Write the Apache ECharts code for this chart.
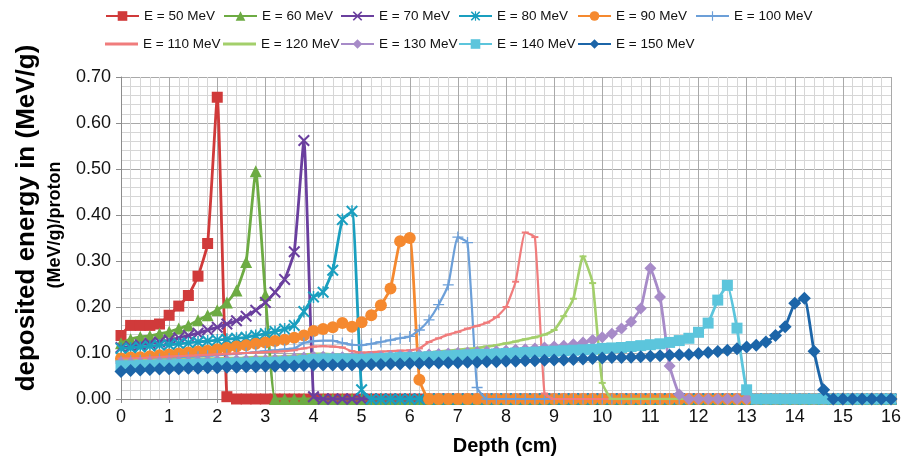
<!DOCTYPE html>
<html>
<head>
<meta charset="utf-8">
<script src="https://cdn.jsdelivr.net/npm/echarts@6/dist/echarts.min.js"></script>
<style>
  html, body { margin: 0; padding: 0; background: #fff; }
  #chart { width: 906px; height: 458px; }
</style>
</head>
<body>
<div id="chart"></div>
<script>
// Depth in water (cm), one sample every 0.2 cm
const depth = [
  0.0, 0.2, 0.4, 0.6, 0.8,
  1.0, 1.2, 1.4, 1.6, 1.8,
  2.0, 2.2, 2.4, 2.6, 2.8,
  3.0, 3.2, 3.4, 3.6, 3.8,
  4.0, 4.2, 4.4, 4.6, 4.8,
  5.0, 5.2, 5.4, 5.6, 5.8,
  6.0, 6.2, 6.4, 6.6, 6.8,
  7.0, 7.2, 7.4, 7.6, 7.8,
  8.0, 8.2, 8.4, 8.6, 8.8,
  9.0, 9.2, 9.4, 9.6, 9.8,
  10.0, 10.2, 10.4, 10.6, 10.8,
  11.0, 11.2, 11.4, 11.6, 11.8,
  12.0, 12.2, 12.4, 12.6, 12.8,
  13.0, 13.2, 13.4, 13.6, 13.8,
  14.0, 14.2, 14.4, 14.6, 14.8,
  15.0, 15.2, 15.4, 15.6, 15.8,
  16.0
];

const seriesNames = [
  'E = 50 MeV', 'E = 60 MeV', 'E = 70 MeV', 'E = 80 MeV', 'E = 90 MeV', 'E = 100 MeV',
  'E = 110 MeV', 'E = 120 MeV', 'E = 130 MeV', 'E = 140 MeV', 'E = 150 MeV'
];

// Deposited energy, (MeV/g)/proton
const e50 = [
  0.138, 0.160, 0.160, 0.160, 0.163,
  0.182, 0.202, 0.225, 0.267, 0.338,
  0.656, 0.005, 0, 0, 0,
  0, 0, 0, 0, 0,
  0, 0, 0, 0, 0,
  0, 0, 0, 0, 0,
  0, 0, 0, 0, 0,
  0, 0, 0, 0, 0,
  0, 0, 0, 0, 0,
  0, 0, 0, 0, 0,
  0, 0, 0, 0, 0,
  0, 0, 0, 0, 0,
  0, 0, 0, 0, 0,
  0, 0, 0, 0, 0,
  0, 0, 0, 0, 0,
  0, 0, 0, 0, 0,
  0
];
const e60 = [
  0.121, 0.130, 0.135, 0.137, 0.142,
  0.146, 0.153, 0.160, 0.171, 0.182,
  0.193, 0.210, 0.236, 0.298, 0.495,
  0.226, 0, 0, 0, 0,
  0, 0, 0, 0, 0,
  0, 0, 0, 0, 0,
  0, 0, 0, 0, 0,
  0, 0, 0, 0, 0,
  0, 0, 0, 0, 0,
  0, 0, 0, 0, 0,
  0, 0, 0, 0, 0,
  0, 0, 0, 0, 0,
  0, 0, 0, 0, 0,
  0, 0, 0, 0, 0,
  0, 0, 0, 0, 0,
  0, 0, 0, 0, 0,
  0
];
const e70 = [
  0.112, 0.114, 0.118, 0.121, 0.124,
  0.128, 0.133, 0.138, 0.143, 0.150,
  0.156, 0.163, 0.170, 0.180, 0.193,
  0.210, 0.232, 0.260, 0.320, 0.562,
  0.005, 0, 0, 0, 0,
  0, 0, 0, 0, 0,
  0, 0, 0, 0, 0,
  0, 0, 0, 0, 0,
  0, 0, 0, 0, 0,
  0, 0, 0, 0, 0,
  0, 0, 0, 0, 0,
  0, 0, 0, 0, 0,
  0, 0, 0, 0, 0,
  0, 0, 0, 0, 0,
  0, 0, 0, 0, 0,
  0, 0, 0, 0, 0,
  0
];
const e80 = [
  0.110, 0.111, 0.113, 0.115, 0.117,
  0.118, 0.120, 0.122, 0.124, 0.126,
  0.128, 0.130, 0.132, 0.134, 0.138,
  0.142, 0.147, 0.152, 0.160, 0.190,
  0.222, 0.232, 0.280, 0.390, 0.408,
  0.020, 0, 0, 0, 0,
  0, 0, 0, 0, 0,
  0, 0, 0, 0, 0,
  0, 0, 0, 0, 0,
  0, 0, 0, 0, 0,
  0, 0, 0, 0, 0,
  0, 0, 0, 0, 0,
  0, 0, 0, 0, 0,
  0, 0, 0, 0, 0,
  0, 0, 0, 0, 0,
  0, 0, 0, 0, 0,
  0
];
const e90 = [
  0.088, 0.090, 0.091, 0.093, 0.095,
  0.097, 0.099, 0.101, 0.103, 0.105,
  0.108, 0.111, 0.114, 0.117, 0.120,
  0.123, 0.126, 0.129, 0.133, 0.138,
  0.148, 0.152, 0.156, 0.165, 0.157,
  0.167, 0.182, 0.204, 0.240, 0.343,
  0.350, 0.042, 0, 0, 0,
  0, 0, 0, 0, 0,
  0, 0, 0, 0, 0,
  0, 0, 0, 0, 0,
  0, 0, 0, 0, 0,
  0, 0, 0, 0, 0,
  0, 0, 0, 0, 0,
  0, 0, 0, 0, 0,
  0, 0, 0, 0, 0,
  0, 0, 0, 0, 0,
  0
];
const e100 = [
  0.082, 0.083, 0.084, 0.085, 0.087,
  0.088, 0.089, 0.091, 0.092, 0.094,
  0.095, 0.097, 0.098, 0.100, 0.102,
  0.104, 0.106, 0.108, 0.110, 0.122,
  0.126, 0.127, 0.127, 0.122, 0.118,
  0.117, 0.120, 0.124, 0.128, 0.132,
  0.136, 0.150, 0.172, 0.205, 0.248,
  0.352, 0.340, 0.025, 0, 0,
  0, 0, 0, 0, 0,
  0, 0, 0, 0, 0,
  0, 0, 0, 0, 0,
  0, 0, 0, 0, 0,
  0, 0, 0, 0, 0,
  0, 0, 0, 0, 0,
  0, 0, 0, 0, 0,
  0, 0, 0, 0, 0,
  0
];
const e110 = [
  0.088, 0.088, 0.089, 0.090, 0.091,
  0.092, 0.093, 0.094, 0.095, 0.096,
  0.097, 0.098, 0.099, 0.100, 0.101,
  0.102, 0.103, 0.104, 0.106, 0.110,
  0.114, 0.115, 0.114, 0.112, 0.104,
  0.101, 0.102, 0.103, 0.104, 0.105,
  0.106, 0.110, 0.124, 0.132, 0.140,
  0.146, 0.153, 0.159, 0.166, 0.178,
  0.200, 0.255, 0.362, 0.352, 0.012,
  0, 0, 0, 0, 0,
  0, 0, 0, 0, 0,
  0, 0, 0, 0, 0,
  0, 0, 0, 0, 0,
  0, 0, 0, 0, 0,
  0, 0, 0, 0, 0,
  0, 0, 0, 0, 0,
  0
];
const e120 = [
  0.083, 0.083, 0.084, 0.084, 0.085,
  0.085, 0.086, 0.087, 0.087, 0.088,
  0.088, 0.089, 0.089, 0.090, 0.091,
  0.091, 0.092, 0.093, 0.094, 0.096,
  0.098, 0.098, 0.097, 0.096, 0.094,
  0.094, 0.095, 0.095, 0.096, 0.097,
  0.098, 0.099, 0.101, 0.103, 0.105,
  0.107, 0.109, 0.111, 0.114, 0.117,
  0.121, 0.125, 0.130, 0.134, 0.140,
  0.150, 0.180, 0.218, 0.310, 0.252,
  0.035, 0, 0, 0, 0,
  0, 0, 0, 0, 0,
  0, 0, 0, 0, 0,
  0, 0, 0, 0, 0,
  0, 0, 0, 0, 0,
  0, 0, 0, 0, 0,
  0
];
const e130 = [
  0.078, 0.078, 0.079, 0.079, 0.080,
  0.080, 0.081, 0.081, 0.082, 0.082,
  0.083, 0.083, 0.084, 0.084, 0.085,
  0.085, 0.086, 0.087, 0.088, 0.090,
  0.092, 0.092, 0.091, 0.091, 0.090,
  0.090, 0.091, 0.092, 0.093, 0.094,
  0.095, 0.096, 0.097, 0.098, 0.099,
  0.100, 0.101, 0.102, 0.103, 0.104,
  0.105, 0.107, 0.108, 0.110, 0.112,
  0.114, 0.116, 0.119, 0.123, 0.128,
  0.134, 0.142, 0.153, 0.168, 0.197,
  0.284, 0.222, 0.072, 0.010, 0,
  0, 0, 0, 0, 0,
  0, 0, 0, 0, 0,
  0, 0, 0, 0, 0,
  0, 0, 0, 0, 0,
  0
];
const e140 = [
  0.072, 0.072, 0.073, 0.073, 0.074,
  0.074, 0.075, 0.075, 0.076, 0.076,
  0.077, 0.077, 0.078, 0.078, 0.079,
  0.079, 0.080, 0.081, 0.082, 0.084,
  0.086, 0.087, 0.087, 0.087, 0.086,
  0.086, 0.087, 0.088, 0.089, 0.090,
  0.090, 0.091, 0.092, 0.093, 0.094,
  0.095, 0.096, 0.097, 0.097, 0.098,
  0.099, 0.100, 0.101, 0.102, 0.103,
  0.104, 0.105, 0.106, 0.107, 0.108,
  0.110, 0.111, 0.112, 0.114, 0.116,
  0.118, 0.120, 0.123, 0.127, 0.132,
  0.145, 0.165, 0.215, 0.247, 0.154,
  0.020, 0, 0, 0, 0,
  0, 0, 0, 0, 0,
  0, 0, 0, 0, 0,
  0
];
const e150 = [
  0.060, 0.062, 0.063, 0.064, 0.065,
  0.066, 0.066, 0.067, 0.067, 0.068,
  0.068, 0.069, 0.069, 0.070, 0.070,
  0.071, 0.071, 0.072, 0.072, 0.073,
  0.074, 0.074, 0.074, 0.074, 0.074,
  0.074, 0.075, 0.075, 0.076, 0.076,
  0.077, 0.077, 0.078, 0.078, 0.079,
  0.079, 0.080, 0.080, 0.081, 0.081,
  0.082, 0.082, 0.083, 0.083, 0.084,
  0.085, 0.085, 0.086, 0.087, 0.088,
  0.089, 0.090, 0.090, 0.091, 0.092,
  0.093, 0.094, 0.095, 0.096, 0.097,
  0.099, 0.101, 0.103, 0.106, 0.109,
  0.113, 0.117, 0.124, 0.138, 0.157,
  0.208, 0.219, 0.104, 0.020, 0,
  0, 0, 0, 0, 0,
  0
];

const yTicks = [0.0, 0.1, 0.2, 0.3, 0.4, 0.5, 0.6, 0.7];

// Marker shapes
const SYM_X = 'path://M0,1.2L1.2,0L5,3.8L8.8,0L10,1.2L6.2,5L10,8.8L8.8,10L5,6.2L1.2,10L0,8.8L3.8,5Z';
const SYM_STAR = 'path://M0,1.2L1.2,0L5,3.8L8.8,0L10,1.2L6.2,5L10,8.8L8.8,10L5,6.2L1.2,10L0,8.8L3.8,5Z M4.4,0H5.6V10H4.4Z';
const SYM_PLUS = 'path://M4.4,0H5.6V4.4H10V5.6H5.6V10H4.4V5.6H0V4.4H4.4Z';
const SYM_DASH = 'path://M0,0H10V3H0Z';

const styles = [
  { values: e50,  color: '#d03a3a', symbol: 'rect',     size: 11, width: 2.8, plainKey: false },
  { values: e60,  color: '#6dab43', symbol: 'triangle', size: 12, width: 2.8, plainKey: false },
  { values: e70,  color: '#6a3f9e', symbol: SYM_X,      size: 12, width: 2.8, plainKey: false },
  { values: e80,  color: '#1a9fbf', symbol: SYM_STAR,   size: 12, width: 2.8, plainKey: false },
  { values: e90,  color: '#f5892f', symbol: 'circle',   size: 12, width: 2.8, plainKey: false },
  { values: e100, color: '#6c9fd8', symbol: SYM_PLUS,   size: 11, width: 2.2, plainKey: false },
  { values: e110, color: '#f07c7c', symbol: SYM_DASH,   size: [7, 2], width: 2.2, plainKey: true },
  { values: e120, color: '#a3cf6b', symbol: SYM_DASH,   size: [7, 2], width: 2.6, plainKey: true },
  { values: e130, color: '#a78bc8', symbol: 'diamond',  size: 12, width: 2.8, plainKey: false },
  { values: e140, color: '#5cc5dc', symbol: 'rect',     size: 11, width: 2.8, plainKey: false },
  { values: e150, color: '#1c65a8', symbol: 'diamond',  size: 13, width: 2.8, plainKey: false }
];

const FONT = '"Liberation Sans", Arial, sans-serif';

const series = styles.map((s, k) => ({
  name: seriesNames[k],
  type: 'line',
  data: depth.map((d, i) => [d, s.values[i]]),
  smooth: 0.15,
  symbol: s.symbol,
  symbolSize: s.size,
  showAllSymbol: true,
  lineStyle: { color: s.color, width: s.width },
  itemStyle: { color: s.color, borderWidth: 0 },
  emphasis: { disabled: true },
  animation: false,
  z: 2 + k
}));

// One legend block per entry, laid out on two rows
const legendLeft = [105, 223, 340, 458, 577, 695, 105, 223, 340, 458, 577];
const legendRowCenter = [16, 16, 16, 16, 16, 16, 44, 44, 44, 44, 44];
const legends = seriesNames.map((n, k) => {
  const plain = styles[k].plainKey;
  const h = plain ? 3 : 12;
  return {
    data: plain ? [{ name: n, icon: 'rect' }] : [n],
    left: legendLeft[k],
    top: legendRowCenter[k] - 8,
    height: 16,
    itemWidth: 33,
    itemHeight: h,
    itemGap: 0,
    padding: 0,
    selectedMode: false,
    textStyle: { fontFamily: FONT, fontSize: 13.5, color: '#111', lineHeight: 16 }
  };
});

const chart = echarts.init(document.getElementById('chart'), null, { renderer: 'canvas' });
chart.setOption({
  animation: false,
  backgroundColor: '#ffffff',
  legend: legends,
  grid: { left: 121, right: 15, top: 77, bottom: 59, containLabel: false },
  xAxis: {
    type: 'value',
    min: 0, max: 16, interval: 1,
    axisLine: { show: true, onZero: true, lineStyle: { color: '#8c8c8c', width: 1 } },
    axisTick: { show: true, length: 4, lineStyle: { color: '#8c8c8c' } },
    axisLabel: { fontFamily: FONT, fontSize: 18, color: '#111', margin: 9 },
    splitLine: { show: true, lineStyle: { color: '#a9a9a9', width: 1 } },
    minorTick: { show: false, splitNumber: 5 },
    minorSplitLine: { show: true, lineStyle: { color: '#d6d6d6', width: 1 } }
  },
  yAxis: {
    type: 'value',
    min: yTicks[0], max: yTicks[yTicks.length - 1], interval: 0.1,
    axisLine: { show: true, lineStyle: { color: '#8c8c8c', width: 1 } },
    axisTick: { show: true, length: 5, lineStyle: { color: '#8c8c8c' } },
    axisLabel: { fontFamily: FONT, fontSize: 18, color: '#111', margin: 10,
      formatter: v => v.toFixed(2) },
    splitLine: { show: true, lineStyle: { color: '#a9a9a9', width: 1 } },
    minorTick: { show: false, splitNumber: 5 },
    minorSplitLine: { show: true, lineStyle: { color: '#d6d6d6', width: 1 } }
  },
  graphic: [
    {
      type: 'text', x: 27, y: 218, rotation: Math.PI / 2,
      style: { text: 'deposited energy in (MeV/g)', fontFamily: FONT, fontSize: 26,
        fontWeight: 'bold', fill: '#000', align: 'center', verticalAlign: 'middle' }
    },
    {
      type: 'text', x: 55, y: 225, rotation: Math.PI / 2,
      style: { text: '(MeV/g)/proton', fontFamily: FONT, fontSize: 18,
        fontWeight: 'bold', fill: '#000', align: 'center', verticalAlign: 'middle' }
    },
    {
      type: 'text', x: 505, y: 446,
      style: { text: 'Depth (cm)', fontFamily: FONT, fontSize: 20,
        fontWeight: 'bold', fill: '#000', align: 'center', verticalAlign: 'middle' }
    }
  ],
  series: series
});
</script>
</body>
</html>
